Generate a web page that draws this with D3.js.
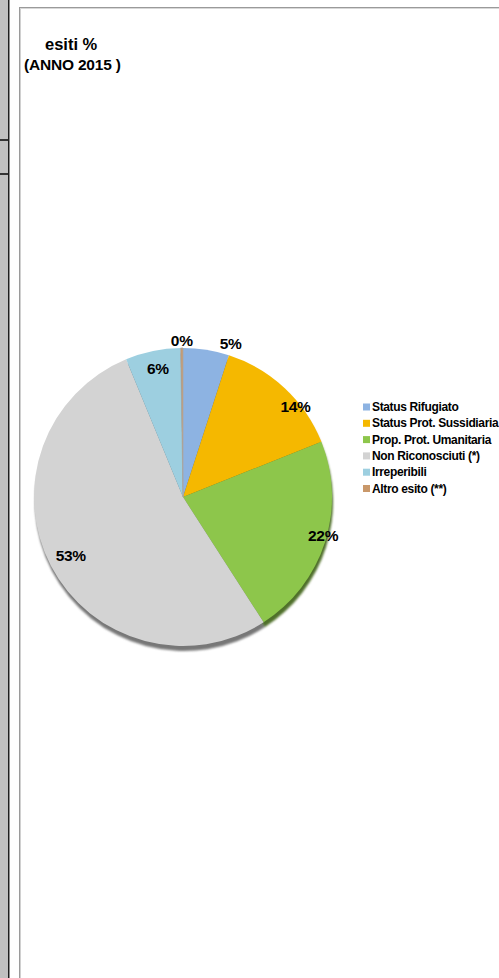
<!DOCTYPE html>
<html>
<head>
<meta charset="utf-8">
<script src="https://cdn.jsdelivr.net/npm/d3@7"></script>
<style>
html,body{margin:0;padding:0;background:#fff;overflow:hidden;}
svg{display:block;}
</style>
</head>
<body>
<svg id="chart" width="499" height="978"></svg>
<script>
const categories = ["Status Rifugiato","Status Prot. Sussidiaria","Prop. Prot. Umanitaria","Non Riconosciuti (*)","Irreperibili","Altro esito (**)"];
const values = [5, 14, 22, 53, 6, 0.25];
const labels = ["5%","14%","22%","53%","6%","0%"];
const colors = ["#8db3e2","#f5b800","#8dc64b","#d3d3d3","#9dcfe0","#c9986a"];
const titleLines = ["esiti %","(ANNO 2015 )"];

// label placement inside each slice: fraction of the slice angle, radius factor
const labelFrac = [0.96, 0.66, 0.47, 0.50, 0.53, 0.5];
const labelRad  = [1.08, 0.97, 0.975, 0.85, 0.88, 1.05];

const svg = d3.select("#chart");
const font = "'Liberation Sans Narrow','Arial Narrow','Liberation Sans',Arial,sans-serif";

// page frame (left strip and chart border)
svg.append("rect").attr("x",0).attr("y",0).attr("width",8).attr("height",978).attr("fill","#c0c0c0");
svg.append("rect").attr("x",8).attr("y",0).attr("width",1.5).attr("height",978).attr("fill","#1e1e1e");
[140,174].forEach(y=>svg.append("rect").attr("x",0).attr("y",y-1).attr("width",8).attr("height",2).attr("fill","#333"));
svg.append("rect").attr("x",19).attr("y",7).attr("width",1).attr("height",971).attr("fill","#9a9a9a");
svg.append("rect").attr("x",20).attr("y",7).attr("width",1).attr("height",971).attr("fill","#d0d0d0");
svg.append("rect").attr("x",19).attr("y",7).attr("width",480).attr("height",1).attr("fill","#9a9a9a");
svg.append("rect").attr("x",20).attr("y",8).attr("width",479).attr("height",1).attr("fill","#d8d8d8");

// title
svg.append("text").attr("x",45).attr("y",50).text(titleLines[0])
  .attr("font-family",font).attr("font-weight","bold").attr("font-size",16.5).attr("fill","#000");
svg.append("text").attr("x",24).attr("y",70).text(titleLines[1])
  .attr("font-family",font).attr("font-weight","bold").attr("font-size",15.5).attr("fill","#000").attr("letter-spacing","-0.2");

// pie
const cx = 183, cy = 497, r = 149;
const pie = d3.pie().sort(null).value(d=>d)(values);
const arc = d3.arc().innerRadius(0).outerRadius(r);

const defs = svg.append("defs");
defs.append("filter").attr("id","blur").append("feGaussianBlur").attr("stdDeviation",1.2);

const shadow = svg.append("g").attr("transform",`translate(${cx+1},${cy+5})`).attr("filter","url(#blur)");
shadow.selectAll("path").data(pie).join("path").attr("d",arc)
  .attr("fill",(d,i)=>d3.color(colors[i]).darker(1.6));

const g = svg.append("g").attr("transform",`translate(${cx},${cy})`);
g.selectAll("path").data(pie).join("path").attr("d",arc)
  .attr("fill",(d,i)=>colors[i]);
// thin line for the ~0% slice
g.append("path").attr("d",arc(pie[5])).attr("fill","none").attr("stroke","#a8a8a8").attr("stroke-width",0.8);

// labels
g.selectAll("text.lbl").data(pie).join("text").attr("class","lbl")
  .attr("transform",(d,i)=>{
    const a = d.startAngle + labelFrac[i]*(d.endAngle-d.startAngle);
    const rr = labelRad[i]*r;
    return `translate(${rr*Math.sin(a)},${-rr*Math.cos(a)})`;
  })
  .attr("text-anchor","middle").attr("dominant-baseline","central")
  .attr("font-family",font).attr("font-weight","bold").attr("font-size",15.5).attr("fill","#000")
  .attr("letter-spacing","-0.3")
  .text((d,i)=>labels[i]);

// legend
const legend = svg.append("g").attr("transform","translate(363,407)");
const rows = legend.selectAll("g").data(categories).join("g")
  .attr("transform",(d,i)=>`translate(0,${i*16.3})`);
rows.append("rect").attr("x",0).attr("y",-3.5).attr("width",7).attr("height",7).attr("fill",(d,i)=>colors[i]);
rows.append("text").attr("x",9).attr("y",0).attr("dominant-baseline","central")
  .attr("font-family",font).attr("font-weight","bold").attr("font-size",12).attr("fill","#000")
  .attr("letter-spacing","-0.35")
  .text(d=>d);
</script>
</body>
</html>
